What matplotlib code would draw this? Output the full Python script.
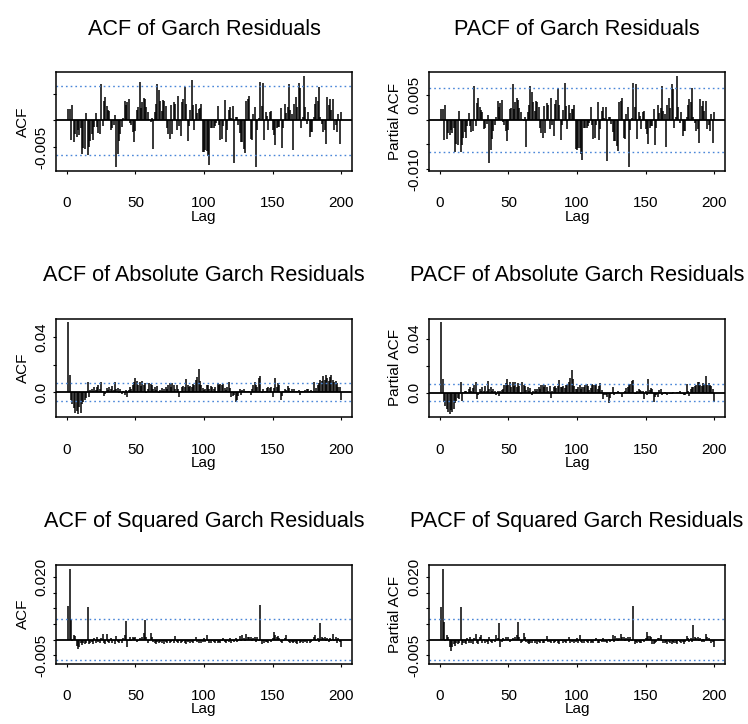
import numpy as np
import matplotlib
matplotlib.use("Agg")
import matplotlib.pyplot as plt

plt.rcParams['font.family'] = ['Liberation Sans', 'DejaVu Sans']

# ---------------- data (values in units of 1e-3) ----------------
lags = np.arange(1, 201)
ci_e3 = 6.5

acf_resid_e3 = [
    2.1, 2.1, -3.7, 3.0, -4.0, -2.5, -3.2, -1.8, -2.8, -1.5,
    -6.4, -5.1, -5.3, 1.5, -6.6, -5.0, -3.8, -2.5, -3.6, -1.3,
    1.5, -1.2, -2.4, -2.5, 6.8, -1.0, 3.7, 4.4, 2.8, 2.0,
    1.8, -1.8, -1.5, -0.8, 1.1, -8.7, -6.3, -3.8, -2.5, -1.2,
    0.5, 3.7, 2.9, 3.5, 4.0, -0.5, -0.9, -2.1, -4.0, -2.0,
    2.0, 2.6, 7.3, 2.3, 3.5, 4.3, 4.1, 2.6, 1.6, 0.3,
    -0.2, 0.4, -5.4, 1.6, 3.2, 6.8, 5.7, 3.7, 1.8, 3.8,
    3.7, 2.7, -1.5, -2.5, -3.5, 2.9, -2.5, 3.5, 3.1, -1.8,
    4.6, -1.0, -3.0, 3.4, 4.0, 6.3, 3.2, -3.9, -1.0, 2.0,
    7.6, 2.9, -1.8, 3.1, 1.4, 2.2, 2.3, 3.2, -5.9, -5.9,
    -5.5, -5.7, -6.7, -8.3, -1.5, -1.5, -1.5, -1.1, -0.5, 2.8,
    -0.9, -3.7, -3.5, -1.0, 3.8, -4.0, -1.8, 1.9, 2.6, 0.5,
    2.7, -8.0, 0.6, 0.6, -0.8, -2.4, -4.0, -4.1, -5.3, -6.1,
    3.7, 4.0, 4.6, -3.4, -3.7, 1.3, 2.6, -8.8, -1.8, 0.5,
    7.3, 2.7, 7.0, -3.7, 1.6, 0.8, -1.8, 1.6, 1.8, -1.8,
    -2.8, -4.7, -1.5, -1.2, -1.2, 2.3, -5.1, -1.5, 3.2, 1.5,
    2.5, 6.8, 1.9, 1.3, -5.5, 3.2, 4.5, 2.5, 7.1, 6.2,
    -1.5, 0.7, 8.4, 2.6, -0.6, 1.6, -3.1, -2.1, -2.1, 0.7,
    3.2, 4.4, 3.7, 6.3, 0.7, -0.6, -2.1, -1.8, -4.5, 4.4,
    2.9, 4.0, 1.9, 4.0, -1.8, -0.9, -2.1, 1.2, -4.5, 1.6,
]

pacf_resid_e3 = [
    2.2, 2.2, -4.0, 3.0, -3.8, -2.7, -3.0, -2.0, -2.6, -1.7,
    -6.5, -5.0, -5.2, 1.7, -6.6, -5.2, -3.6, -2.4, -3.7, -1.2,
    1.4, -1.3, -2.5, -2.3, 6.9, -1.2, 3.5, 4.5, 2.6, 1.9,
    1.6, -1.9, -1.6, -0.9, 1.0, -8.8, -6.2, -3.9, -2.3, -1.1,
    0.6, 3.8, 2.7, 3.4, 4.1, -0.4, -1.0, -2.2, -4.2, -2.1,
    2.1, 2.4, 7.3, 2.2, 3.6, 4.4, 4.0, 2.4, 1.5, 0.2,
    -0.3, 0.5, -5.6, 1.5, 3.1, 6.9, 5.6, 3.6, 1.7, 3.9,
    3.6, 2.6, -1.6, -2.6, -3.6, 2.8, -2.6, 3.4, 3.0, -1.9,
    4.5, -1.1, -3.2, 3.3, 4.1, 6.4, 3.1, -4.0, -1.1, 1.9,
    7.5, 2.8, -1.9, 3.0, 1.3, 2.1, 2.2, 3.1, -6.0, -6.1,
    -5.7, -5.8, -6.9, -8.1, -1.7, -1.6, -1.6, -1.2, -0.6, 2.7,
    -1.0, -3.9, -3.6, -1.1, 3.7, -4.1, -1.9, 1.8, 2.5, 0.4,
    2.6, -8.4, 0.5, 0.5, -0.9, -2.5, -4.2, -4.3, -5.4, -6.3,
    3.6, 3.9, 4.5, -3.6, -3.8, 1.2, 2.5, -9.6, -2.0, 0.4,
    7.4, 2.6, 7.2, -3.9, 1.5, 0.7, -1.9, 1.5, 1.7, -1.9,
    -2.9, -4.9, -1.6, -1.3, -1.3, 2.2, -5.2, -1.6, 3.1, 1.4,
    2.4, 6.9, 1.8, 1.2, -5.6, 3.1, 4.4, 2.4, 7.2, 6.3,
    -1.6, 0.6, 8.9, 2.5, -0.7, 1.5, -3.2, -2.2, -2.2, 0.6,
    3.1, 4.3, 3.6, 6.4, 0.6, -0.7, -2.2, -1.9, -4.7, 4.3,
    2.8, 3.9, 1.8, 3.9, -1.9, -1.0, -2.2, 1.1, -4.6, 1.5,
]

acf_abs_e3 = [
    51.1, 12.8, -6.2, -9.0, -12.0, -15.5, -14.0, -15.8, -11.0, -15.3,
    -9.0, -7.0, -6.0, -4.5, 7.5, -3.5, 1.5, 2.0, 0.8, 3.5,
    1.5, 4.0, 5.0, 2.0, 7.4, 1.0, -3.0, -1.5, 3.0, 1.5,
    3.5, 2.0, 4.5, 1.5, 7.4, 2.5, 3.0, -1.0, 2.5, -1.5,
    1.0, -2.0, 1.5, -3.5, 1.5, 3.5, 2.5, 5.5, 7.0, 10.4,
    8.0, 5.5, 7.5, 4.5, 7.8, 5.0, 6.5, -0.5, 2.0, 6.5,
    6.0, 5.0, 2.5, 3.5, 1.5, 4.5, -1.0, 1.5, 3.0, 1.0,
    2.5, 4.0, 2.0, 5.5, 6.5, 4.0, 6.5, 5.0, 2.0, 5.5,
    2.0, -4.0, 0.5, 4.0, 4.5, 4.0, 9.8, 5.0, 3.5, 4.5,
    4.0, 6.0, 5.0, 9.0, 11.0, 16.8, 8.0, 5.0, 3.0, 1.5,
    2.0, 5.5, 5.0, 2.0, 4.5, 4.0, 2.0, 3.5, 1.0, 6.5,
    5.5, 6.0, 5.0, 6.0, 3.0, 1.5, 4.0, 7.4, 3.0, -4.0,
    -3.0, -2.0, -7.0, -6.0, -3.0, 2.5, -2.0, 1.5, 2.0, 0.5,
    0.5, 1.0, 0.5, -2.0, 2.0, 5.5, 7.0, 5.0, 4.0, 10.4,
    12.0, -1.0, 2.0, 1.0, 1.0, 3.0, 3.5, 3.0, 4.0, -3.5,
    3.0, 10.4, 4.0, 6.5, 5.5, -5.5, -3.0, 1.0, 2.5, 1.5,
    4.5, 3.0, 1.0, 2.0, 1.0, 2.5, 0.5, 1.0, 1.5, -2.5,
    0.5, 1.0, 1.0, 1.5, 2.0, 2.0, 1.0, 1.5, 0.5, 7.0,
    1.0, 3.0, 5.0, 6.5, 9.0, 8.0, 11.5, 9.0, 12.3, 10.0,
    8.0, 10.8, 12.6, 9.0, 7.0, 8.0, 6.5, 4.0, 3.5, -6.2,
]

pacf_abs_e3 = [
    52.0, 9.8, -7.0, -10.0, -12.5, -14.0, -15.5, -13.0, -14.5, -12.0,
    -8.0, -6.0, -4.0, -5.0, 7.5, -6.5, 0.5, 1.0, 1.5, 0.5,
    3.0, 4.0, 1.5, 3.5, 5.5, 7.5, -4.5, -2.0, 3.0, 1.5,
    4.5, 1.5, 5.0, 1.0, 8.3, 2.5, 4.0, 1.5, 2.5, 1.5,
    -1.5, 1.0, -2.5, 1.5, 2.0, 3.0, 5.5, 7.0, 9.8, 6.0,
    8.0, 4.5, 7.5, 5.0, 8.0, 4.0, 7.0, 5.0, -1.0, 7.5,
    6.0, 5.0, 2.0, 4.0, 1.5, 3.5, -1.5, 1.0, 2.5, 1.0,
    3.0, 4.5, 3.0, 5.5, 6.0, 4.0, 6.0, 4.5, 1.0, 5.0,
    -4.0, 1.0, 4.0, 5.0, 3.5, 5.0, 9.0, 4.5, 4.0, 5.0,
    3.5, 5.5, 6.0, 8.0, 10.5, 16.5, 10.0, 5.0, 3.0, 3.0,
    4.5, 5.5, 3.0, 4.5, 4.0, 6.0, 6.5, 5.0, 2.0, 3.5,
    6.5, 6.0, 5.5, 6.5, 3.0, 5.0, 7.0, 2.0, -4.5, -2.0,
    -1.5, -3.5, -7.5, -4.0, -1.0, 4.5, -2.0, 0.5, 0.5, 1.0,
    0.5, -1.0, -3.0, 0.5, 1.0, 3.5, 4.0, 5.5, 6.5, 8.5,
    9.5, -1.0, -1.0, 1.5, 2.5, 2.0, 1.5, 1.0, -5.0, 1.5,
    -2.0, 9.8, 2.0, 3.5, 3.0, -7.0, -3.0, -1.5, -3.0, 2.0,
    3.0, -1.5, -1.0, 0.5, -1.0, -1.5, -0.5, -1.0, -1.0, 0.5,
    -0.5, -0.5, 0.5, 0.5, 1.0, -1.0, -1.0, -2.0, -1.5, 6.5,
    1.0, -2.5, 3.0, 4.0, 4.5, 5.0, 5.5, 7.5, 8.0, 6.0,
    5.0, 7.0, 6.0, 12.0, 6.0, 7.0, 6.0, 5.0, 2.5, -7.0,
]

acf_sq_e3 = [
    10.9, 22.8, 6.5, -0.5, 1.5, 1.2, -2.0, -3.0, -2.5, -1.2,
    -1.8, -1.0, -1.5, -1.2, 10.5, -1.5, -1.0, -0.8, -1.3, 0.5,
    -1.0, 1.0, -0.8, -1.2, 0.6, 1.8, -1.0, -1.3, 1.7, -0.9,
    -1.2, 0.5, -1.0, -0.6, -1.4, 1.2, -0.8, -1.1, -0.5, -1.0,
    0.6, 1.5, 6.0, -2.5, -0.6, 0.7, -0.5, 0.8, 0.4, 1.0,
    -0.7, -0.4, 0.5, 0.3, 1.0, 2.0, 6.2, 1.0, -1.0, -0.6,
    2.2, 1.0, -0.8, -1.0, -1.4, -0.9, -1.2, -0.7, -1.1, -0.5,
    -1.3, -0.8, -1.0, -0.6, -1.2, -0.9, -0.5, -1.0, 1.2, -0.7,
    -1.1, -0.6, -1.2, -0.8, -0.4, -1.0, -1.3, -0.7, -0.5, -1.1,
    -0.8, -1.2, -0.6, 0.8, -0.9, -1.0, -0.5, -1.2, -0.7, 0.4,
    -0.9, 1.5, -0.6, -1.0, -1.2, -0.5, -0.8, -1.1, -0.6, -1.0,
    -0.7, -1.2, -0.5, 0.6, -0.9, -1.1, -0.4, -0.8, 0.5, -1.0,
    -0.6, -0.9, 0.4, -0.7, -0.5, 1.2, -0.6, 1.5, 0.5, -0.4,
    1.8, 1.0, 0.8, 1.0, -0.5, 0.6, 0.8, -0.7, 1.0, -0.5,
    11.0, -1.5, -0.6, -1.0, -0.7, -0.9, -1.1, -0.5, -0.8, 0.5,
    2.5, 1.5, 1.0, 1.2, 0.6, -0.8, -1.0, -0.6, 0.5, 1.5,
    -0.5, -0.9, -1.1, -0.7, -1.2, -0.8, -1.0, -1.4, -0.6, -1.1,
    -0.9, -1.2, -0.5, -0.8, -1.0, -0.6, -1.2, -0.7, -0.4, 0.8,
    1.5, -0.6, 0.5, -0.8, 5.2, 1.0, 0.5, 0.8, -0.5, 0.6,
    -0.7, 0.4, -0.6, 1.8, -0.5, 1.0, -1.0, 0.5, -0.8, -2.5,
]

pacf_sq_e3 = [
    10.5, 22.8, 5.5, -0.5, 1.5, 0.8, -2.5, -3.5, -2.5, -1.5,
    -2.0, -1.2, -1.5, -1.0, 10.4, -1.8, -1.2, -1.0, -1.5, 0.4,
    -1.2, 0.8, -1.0, -1.3, 0.5, 1.8, -1.1, -1.4, 0.9, 1.5,
    -1.0, 0.3, -1.1, -0.7, -1.3, 1.0, -0.9, -1.2, -0.6, -0.8,
    1.5, 0.5, 5.3, -2.5, -0.8, 0.6, -0.6, 0.7, 0.3, 1.0,
    -0.8, -0.5, 0.4, 0.3, 0.8, 1.5, 5.5, 1.0, -1.1, -0.7,
    2.2, 0.8, -0.9, -1.1, -1.3, -1.0, -1.2, -0.6, -1.0, -0.6,
    -1.3, -0.9, -1.1, -0.5, -1.2, -1.0, -0.6, 1.2, -0.8, -0.7,
    -1.2, -0.5, -1.1, -0.9, -0.5, -1.0, -1.4, -0.6, -0.6, -1.0,
    -0.9, -1.1, -0.5, 0.7, -1.0, -0.9, -0.6, -1.1, -0.8, 0.4,
    -1.0, 1.5, -0.7, -1.1, -1.0, -0.6, -0.9, -1.0, -0.5, -1.1,
    -0.8, -1.0, -0.6, 0.5, -1.0, -1.2, -0.5, -0.9, 0.4, -0.9,
    -0.7, -1.0, 0.3, -0.8, -0.4, 1.5, -0.7, 1.2, 0.4, -0.5,
    0.6, 1.8, 1.0, 0.8, -0.6, 0.5, 0.7, -0.8, 0.9, -0.6,
    10.8, -1.5, -0.7, -1.1, -0.8, -1.0, -1.2, -0.6, -0.7, 0.4,
    2.3, 1.2, 1.2, 1.0, -1.5, -1.5, -1.2, -0.7, 0.4, 0.5,
    1.5, -0.6, -1.0, -1.2, -0.8, -1.3, -0.9, -1.1, -1.5, -0.7,
    -1.2, -1.0, -1.3, -0.6, -0.9, -1.1, -0.7, -1.3, -0.8, 1.3,
    0.6, -0.7, 0.4, -0.9, 4.8, 0.8, 0.5, 0.7, -0.6, 0.5,
    -0.8, 0.3, -0.7, 1.8, 1.0, 0.6, -0.6, -1.0, -0.9, -2.3,
]

titles = [
    "ACF of Garch Residuals", "PACF of Garch Residuals",
    "ACF of Absolute Garch Residuals", "PACF of Absolute Garch Residuals",
    "ACF of Squared Garch Residuals", "PACF of Squared Garch Residuals",
]
ylabels = ["ACF", "Partial ACF"] * 3
series = [acf_resid_e3, pacf_resid_e3, acf_abs_e3, pacf_abs_e3, acf_sq_e3, pacf_sq_e3]
xticks = [0, 50, 100, 150, 200]
yticks_e3 = [
    ([-5, 0, 5], ["-0.005", "", ""]),
    ([-10, -5, 0, 5], ["-0.010", "", "", "0.005"]),
    ([0, 20, 40], ["0.0", "", "0.04"]),
    ([0, 20, 40], ["0.0", "", "0.04"]),
    ([-5, 0, 5, 10, 15, 20], ["-0.005", "", "", "", "", "0.020"]),
    ([-5, 0, 5, 10, 15, 20], ["-0.005", "", "", "", "", "0.020"]),
]

# ---------------- layout ----------------
W, H = 748, 724
fig = plt.figure(figsize=(W / 100, H / 100), dpi=100)
fig.patch.set_facecolor("white")

col_left = [56, 429]
row_top = [72.3, 318.7, 565.0]
bw, bh = 296, 98.5
ci_color = "#4a86d8"

for i in range(6):
    r, c = divmod(i, 2)
    L, T = col_left[c], row_top[r]
    ax = fig.add_axes([L / W, 1 - (T + bh) / H, bw / W, bh / H])
    vals = np.array(series[i]) / 1000.0
    ci = ci_e3 / 1000.0
    ax.vlines(lags, 0, vals, color="black", lw=1.1)
    ax.axhline(0, color="black", lw=1.3)
    for s in (ci, -ci):
        ax.axhline(s, color=ci_color, lw=1.0, ls=(0, (1.2, 2.2)))
    lo = min(-ci, vals.min())
    hi = max(ci, vals.max())
    pad = 0.04 * (hi - lo)
    ax.set_ylim(lo - pad, hi + pad)
    ax.set_xlim(-8, 208)
    ax.set_xticks(xticks)
    ax.set_xticklabels([str(t) for t in xticks])
    yt, yl = yticks_e3[i]
    ax.set_yticks(np.array(yt) / 1000.0)
    ax.set_yticklabels(yl)
    for sp in ax.spines.values():
        sp.set_linewidth(1.1)
        sp.set_color("black")
    ax.tick_params(axis="x", direction="out", length=2.5, width=0.8, labelsize=11, pad=16)
    ax.tick_params(axis="y", direction="out", length=2.5, width=0.8, labelsize=11, pad=3,
                   labelrotation=90)
    for lbl in ax.get_yticklabels():
        lbl.set_va("center")
        lbl.set_ha("right")
    # title
    cx = (L + bw / 2) / W
    fig.text(cx, 1 - (T - 37.5) / H, titles[i], ha="center", va="baseline", fontsize=15.6)
    # x label
    fig.text(cx, 1 - (T + bh + 50) / H, "Lag", ha="center", va="baseline", fontsize=11)
    # y label
    fig.text((L - 33.5) / W, 1 - (T + bh / 2) / H, ylabels[i], ha="center", va="center",
             rotation=90, fontsize=11)

fig.savefig("out.png", dpi=100, facecolor="white")
